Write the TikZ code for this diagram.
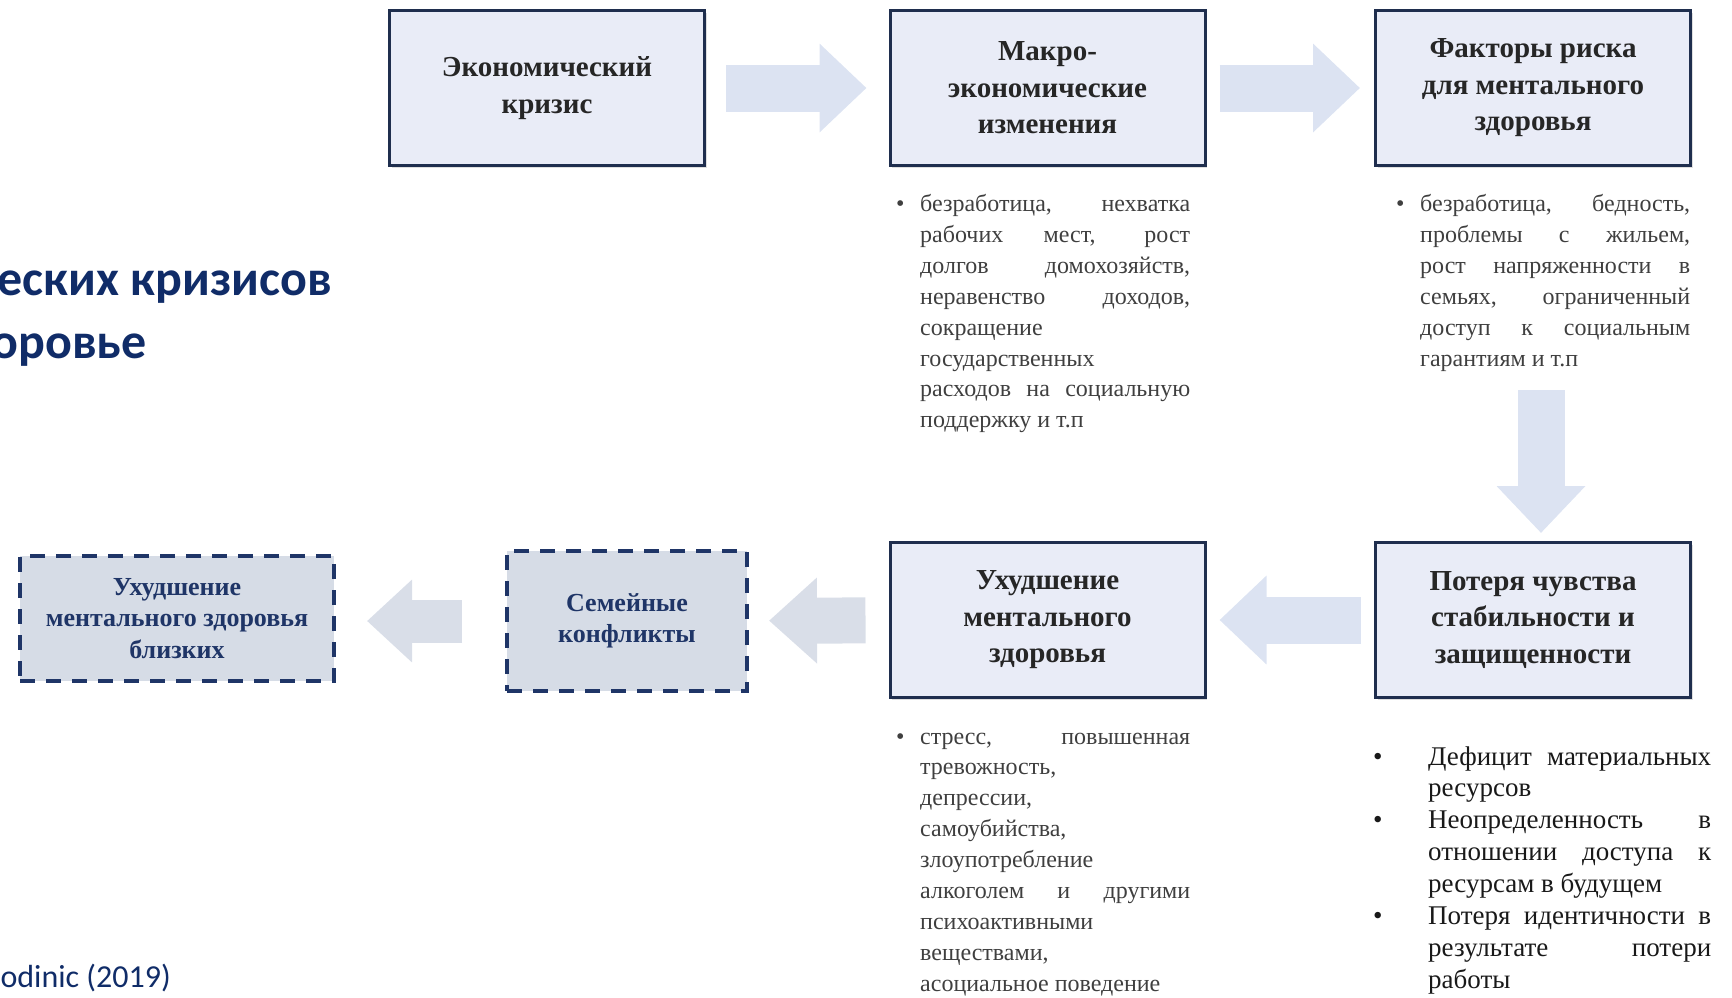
\documentclass[tikz,border=0pt]{standalone}
\usepackage{fontspec}
\setmainfont{Liberation Serif}
\newfontfamily\calfont{Carlito}
\usetikzlibrary{arrows.meta}
\usetikzlibrary{shadows}

\definecolor{boxfill}{HTML}{E9ECF7}
\definecolor{boxline}{HTML}{1F2E4E}
\definecolor{boxtext}{HTML}{262626}
\definecolor{arrowfill}{HTML}{DCE3F2}
\definecolor{arrowgray}{HTML}{D9DEE8}
\definecolor{dashfill}{HTML}{D6DCE6}
\definecolor{dashline}{HTML}{1F3567}
\definecolor{titleblue}{HTML}{102C68}
\definecolor{bodygray}{HTML}{3F3F3F}

% one line of a text block: stretched or left
\newcommand\jl[1]{\hbox to\linewidth{#1}}
\newcommand\lf[1]{\hbox to\linewidth{#1\hfil}}
\newcommand\bul[1][24pt]{\llap{\makebox[#1][l]{•}}}

\tikzset{
  mainbox/.style={draw=boxline, line width=3pt, fill=boxfill, minimum width=315pt, minimum height=155pt,
    align=center, text=boxtext, font=\bfseries\fontsize{29}{36.5}\selectfont,
    drop shadow={shadow xshift=2pt, shadow yshift=-2pt, opacity=.25}},
  dashbox/.style={draw=dashline, line width=4pt, dash pattern=on 15pt off 11pt, fill=dashfill,
    align=center, text=dashline, font=\bfseries\fontsize{26}{31.5}\selectfont},
  blockarr/.style={draw=arrowfill, line width=47pt, -{Triangle[length=47pt,width=86pt]}},
  bultext/.style={anchor=base west, inner sep=0pt, text=bodygray, font=\fontsize{24}{30.9}\selectfont},
  titletext/.style={anchor=base east, inner sep=0pt, text=titleblue}
}

\begin{document}
\begin{tikzpicture}[x=1pt,y=-1pt]
    \useasboundingbox (0,0) rectangle (1732,997);

    % title, cut at the left edge
    \node[titletext, font=\calfont\bfseries\fontsize{50}{60}\selectfont] (head1) at (332,295) {еских кризисов};
    \node[titletext, font=\calfont\bfseries\fontsize{50}{60}\selectfont] (head2) at (147,358) {оровье};
    \node[titletext, font=\calfont\fontsize{32}{38}\selectfont] (src) at (171,987) {odinic (2019)};

    % top row
    \node[mainbox] (eco) at (547,88) {Экономический\\кризис};
    \node[mainbox] (macro) at (1047.5,88) {Макро-\\экономические\\изменения};
    \node[mainbox] (risk) at (1533,88) {Факторы риска\\для ментального\\здоровья};

    % bottom row
    \node[mainbox] (mental) at (1047.5,620) {Ухудшение\\ментального\\здоровья};
    \node[mainbox] (loss) at (1533,620) {Потеря чувства\\стабильности и\\защищенности};
    \node[dashbox, minimum width=240pt, minimum height=140pt] (family) at (627,621) {Семейные\\конфликты};
    \node[dashbox, minimum width=314pt, minimum height=125pt] (close) at (177,618.5) {Ухудшение\\ментального здоровья\\близких};

    % lists under the boxes
    \node[bultext] (macrolist) at (920,211.5) {\parbox[t]{270pt}{%
      \jl{\bul безработица, нехватка}
      \jl{рабочих мест, рост}
      \jl{долгов домохозяйств,}
      \jl{неравенство доходов,}
      \lf{сокращение}
      \lf{государственных}
      \jl{расходов на социальную}
      \lf{поддержку и т.п}}};
    \node[bultext] (risklist) at (1420,211.5) {\parbox[t]{270pt}{%
      \jl{\bul безработица, бедность,}
      \jl{проблемы с жильем,}
      \jl{рост напряженности в}
      \jl{семьях, ограниченный}
      \jl{доступ к социальным}
      \lf{гарантиям и т.п}}};
    \node[bultext] (mentallist) at (920,744) {\parbox[t]{270pt}{%
      \jl{\bul стресс, повышенная}
      \lf{тревожность,}
      \lf{депрессии,}
      \lf{самоубийства,}
      \lf{злоупотребление}
      \jl{алкоголем и другими}
      \lf{психоактивными}
      \lf{веществами,}
      \lf{асоциальное поведение}}};
    \node[bultext, text=black!90, font=\fontsize{27}{31.9}\selectfont] (losslist) at (1428,765) {\parbox[t]{283pt}{%
      \jl{\bul[55pt]Дефицит материальных}
      \lf{ресурсов}
      \jl{\bul[55pt]Неопределенность в}
      \jl{отношении доступа к}
      \lf{ресурсам в будущем}
      \jl{\bul[55pt]Потеря идентичности в}
      \jl{результате потери}
      \lf{работы}}};

    % block arrows
    \draw[blockarr, shorten <=20pt, shorten >=22pt] (eco) -- (macro);
    \draw[blockarr, shorten <=13pt, shorten >=14pt] (macro) -- (risk);
    \draw[blockarr, shorten <=223pt, shorten >=8pt] ([xshift=8pt]risk.south) -- ([xshift=8pt]loss.north);
    \draw[blockarr, shorten <=13pt, shorten >=13pt] (loss) -- (mental);
    \draw[blockarr, draw=arrowgray, line width=46pt, -{Triangle[length=48pt,width=83pt]}, shorten <=23pt, shorten >=20pt] (mental) -- (family);
    \draw[blockarr, draw=arrowgray, line width=43pt, -{Triangle[length=45pt,width=80pt]}, shorten <=43pt, shorten >=31pt] (family.west) -- (family.west -| close.east);
\end{tikzpicture}
\end{document}
